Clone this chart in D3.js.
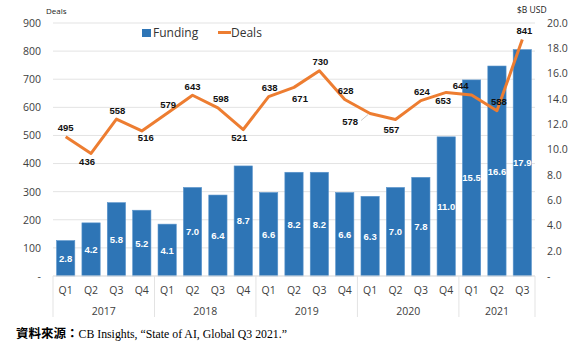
<!DOCTYPE html>
<html>
<head>
<meta charset="utf-8">
<script src="https://cdn.jsdelivr.net/npm/d3@7"></script>
<style>
  body { margin: 0; background: #fff; }
  text { font-family: "Liberation Sans", Arial, sans-serif; }
</style>
</head>
<body>
<div id="chart"></div>
<script>
const years = ['2017', '2018', '2019', '2020', '2021'];
const quarters = ['Q1','Q2','Q3','Q4','Q1','Q2','Q3','Q4','Q1','Q2','Q3','Q4','Q1','Q2','Q3','Q4','Q1','Q2','Q3'];
const quarterYears = ['2017','2017','2017','2017','2018','2018','2018','2018','2019','2019','2019','2019','2020','2020','2020','2020','2021','2021','2021'];
const funding = [2.8, 4.2, 5.8, 5.2, 4.1, 7.0, 6.4, 8.7, 6.6, 8.2, 8.2, 6.6, 6.3, 7.0, 7.8, 11.0, 15.5, 16.6, 17.9];
const deals = [495, 436, 558, 516, 579, 643, 598, 521, 638, 671, 730, 628, 578, 557, 624, 653, 644, 588, 841];
const leftTicks = [0, 100, 200, 300, 400, 500, 600, 700, 800, 900];
const rightTicks = [0, 2, 4, 6, 8, 10, 12, 14, 16, 18, 20];

// where each deals label sits relative to its point
const dealLabelOffset = [
  [0,-9],[-4,8],[1,-9],[4,7],[1,-9],[0,-9],[3,-9],[-4,8],[1,-9],[6,11],
  [1,-9],[1,-9],[-20,8],[-4,10],[1,-9],[-3,8],[-11,-9],[2,-9],[2,-9]
];

const width = 577, height = 353;
const margin = {top: 23, right: 42, bottom: 77, left: 53};
const plotW = width - margin.left - margin.right;
const plotH = height - margin.top - margin.bottom;

const svg = d3.select('#chart').append('svg')
  .attr('width', width)
  .attr('height', height);

const keys = quarters.map((q, i) => quarterYears[i] + ' ' + q);

const x = d3.scaleBand()
  .domain(keys)
  .range([margin.left, margin.left + plotW])
  .paddingInner(0.28)
  .paddingOuter(0.14);

const yL = d3.scaleLinear().domain([0, 900]).range([margin.top + plotH, margin.top]);
const yR = d3.scaleLinear().domain([0, 20]).range([margin.top + plotH, margin.top]);

// gridlines
svg.append('g')
  .selectAll('line')
  .data(leftTicks)
  .join('line')
  .attr('x1', margin.left)
  .attr('x2', margin.left + plotW)
  .attr('y1', d => yL(d))
  .attr('y2', d => yL(d))
  .attr('stroke', '#e3e3e3')
  .attr('stroke-width', 1);

// left axis
const axisL = d3.axisLeft(yL).tickValues(leftTicks).tickSize(0).tickPadding(12)
  .tickFormat(d => d === 0 ? '-' : d);
const gL = svg.append('g')
  .attr('transform', `translate(${margin.left},0)`)
  .call(axisL);
gL.select('.domain').remove();
gL.selectAll('text').attr('font-size', 10.5).attr('fill', '#404040')
  .style('font-family', '"Open Sans", sans-serif');

// right axis
const axisR = d3.axisRight(yR).tickValues(rightTicks).tickSize(0).tickPadding(12)
  .tickFormat(d => d === 0 ? '-' : d3.format('.1f')(d));
const gR = svg.append('g')
  .attr('transform', `translate(${margin.left + plotW},0)`)
  .call(axisR);
gR.select('.domain').remove();
gR.selectAll('text').attr('font-size', 10.5).attr('fill', '#404040')
  .style('font-family', '"Open Sans", sans-serif');

// axis titles
svg.append('text').attr('x', 46).attr('y', 14).attr('font-size', 8).attr('fill', '#222')
  .style('font-family', '"Open Sans", sans-serif').text('Deals');
svg.append('text').attr('x', 517).attr('y', 13).attr('font-size', 8.5).attr('fill', '#222')
  .style('font-family', '"Open Sans", sans-serif').text('$B USD');

// bars
svg.append('g')
  .selectAll('rect')
  .data(funding)
  .join('rect')
  .attr('x', (d, i) => x(keys[i]))
  .attr('width', x.bandwidth())
  .attr('y', d => yR(d))
  .attr('height', d => yR(0) - yR(d))
  .attr('fill', '#2E75B6')
  .attr('stroke', '#5b95cc')
  .attr('stroke-width', 0.6);

svg.append('g')
  .selectAll('text')
  .data(funding)
  .join('text')
  .attr('x', (d, i) => x(keys[i]) + x.bandwidth() / 2)
  .attr('y', d => (yR(d) + yR(0)) / 2 + 3.5)
  .attr('text-anchor', 'middle')
  .attr('font-size', 9.5)
  .attr('font-weight', 'bold')
  .attr('fill', '#fff')
  .text(d => d.toFixed(1));

// x axis baseline
svg.append('line')
  .attr('x1', margin.left).attr('x2', margin.left + plotW)
  .attr('y1', yL(0)).attr('y2', yL(0))
  .attr('stroke', '#e3e3e3');

// quarter labels
svg.append('g')
  .selectAll('text')
  .data(quarters)
  .join('text')
  .attr('x', (d, i) => x(keys[i]) + x.bandwidth() / 2)
  .attr('y', yL(0) + 18)
  .attr('text-anchor', 'middle')
  .attr('font-size', 10.5)
  .attr('fill', '#404040')
  .style('font-family', '"Open Sans", sans-serif')
  .text(d => d);

// year groups
const step = x.step();
const yearStart = years.map(yr => keys.findIndex(k => k.startsWith(yr)));
const yearCount = years.map(yr => quarterYears.filter(q => q === yr).length);
const x0 = margin.left;
const boundaries = [0].concat(yearStart.map((s, i) => s + yearCount[i]));
const bx = d => d === 0 ? x0 : x(keys[d - 1]) + x.bandwidth() + step * x.paddingInner() / 2;

svg.append('g')
  .selectAll('line')
  .data(boundaries)
  .join('line')
  .attr('x1', bx)
  .attr('x2', bx)
  .attr('y1', yL(0))
  .attr('y2', yL(0) + 41)
  .attr('stroke', '#e3e3e3');

svg.append('g')
  .selectAll('text')
  .data(years)
  .join('text')
  .attr('x', (d, i) => {
    const a = x(keys[yearStart[i]]);
    const b = x(keys[yearStart[i] + yearCount[i] - 1]) + x.bandwidth();
    return (a + b) / 2;
  })
  .attr('y', yL(0) + 39)
  .attr('text-anchor', 'middle')
  .attr('font-size', 10.5)
  .attr('fill', '#404040')
  .style('font-family', '"Open Sans", sans-serif')
  .text(d => d);

// deals line
const line = d3.line()
  .x((d, i) => x(keys[i]) + x.bandwidth() / 2)
  .y(d => yL(d));

svg.append('path')
  .attr('fill', 'none')
  .attr('stroke', '#ED7D31')
  .attr('stroke-width', 3)
  .attr('stroke-linejoin', 'round')
  .attr('d', line(deals));

// leader line for 578
const li = deals.indexOf(578);
svg.append('line')
  .attr('x1', x(keys[li]) + x.bandwidth() / 2 + dealLabelOffset[li][0] + 11)
  .attr('y1', yL(deals[li]) + dealLabelOffset[li][1] - 1)
  .attr('x2', x(keys[li]) + x.bandwidth() / 2 - 2)
  .attr('y2', yL(deals[li]) + 1)
  .attr('stroke', '#bbb')
  .attr('stroke-width', 0.8);

svg.append('g')
  .selectAll('text')
  .data(deals)
  .join('text')
  .attr('x', (d, i) => x(keys[i]) + x.bandwidth() / 2 + dealLabelOffset[i][0])
  .attr('y', (d, i) => yL(d) + dealLabelOffset[i][1] + 3.5)
  .attr('text-anchor', 'middle')
  .attr('font-size', 9.5)
  .attr('font-weight', 'bold')
  .attr('fill', '#111')
  .text(d => d);

// legend
svg.append('rect').attr('x', 142).attr('y', 29).attr('width', 9).attr('height', 8).attr('fill', '#2E75B6');
svg.append('text').attr('x', 153).attr('y', 37).attr('font-size', 12).attr('fill', '#333')
  .style('font-family', '"Open Sans", sans-serif').text('Funding');
svg.append('line').attr('x1', 218).attr('x2', 231).attr('y1', 32.5).attr('y2', 32.5)
  .attr('stroke', '#ED7D31').attr('stroke-width', 3);
svg.append('text').attr('x', 231).attr('y', 37).attr('font-size', 12).attr('fill', '#333')
  .style('font-family', '"Open Sans", sans-serif').text('Deals');

// source
const src = svg.append('text')
  .attr('x', 16).attr('y', 338)
  .attr('fill', '#000');
src.append('tspan')
  .attr('font-size', 12.5)
  .attr('font-weight', 'bold')
  .style('font-family', '"Noto Sans CJK TC", serif')
  .text('資料來源：');
src.append('tspan')
  .attr('font-size', 11.8)
  .style('font-family', '"Liberation Serif", serif')
  .text('CB Insights, “State of AI, Global Q3 2021.”');
</script>
</body>
</html>
